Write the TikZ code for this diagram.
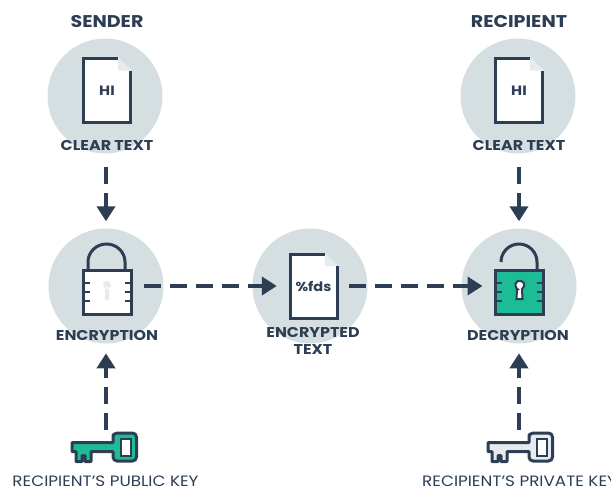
\documentclass[tikz,border=0pt]{standalone}
\usepackage{fontspec}
\setmainfont[FakeStretch=1.12]{Poppins}
\usetikzlibrary{arrows.meta,calc}
\definecolor{SlateDark}{RGB}{45,62,84}
\definecolor{DiscGrey}{RGB}{213,223,226}
\definecolor{FoldGrey}{RGB}{230,236,238}
\definecolor{LockGreen}{RGB}{27,188,150}
\tikzstyle{disc} = [circle, fill=DiscGrey, minimum size=115pt, inner sep=0pt]
\tikzstyle{docbox} = [rectangle, minimum width=47pt, minimum height=64pt, inner sep=0pt, text=SlateDark, font=\fontsize{13.5}{14}\selectfont\bfseries]
\tikzstyle{lockbox} = [rectangle, minimum width=48pt, minimum height=44pt, inner sep=0pt]
\tikzstyle{title} = [text=SlateDark, font=\fontsize{17}{17}\selectfont\bfseries, inner sep=0pt, align=center]
\tikzstyle{caption} = [text=SlateDark, font=\fontsize{14.2}{17}\selectfont\bfseries, inner sep=1pt, align=center]
\tikzstyle{keytext} = [text=SlateDark, font=\fontsize{15}{15}\selectfont, inner sep=0pt]
\tikzstyle{icon} = [draw=SlateDark, line width=3pt]
\tikzstyle{arrow} = [draw=SlateDark, line width=4.5pt, dash pattern=on 17pt off 9pt, -{Triangle[length=15pt,width=18pt]}]
% page with folded corner
\newcommand{\docicon}[4]{
\begin{scope}[shift={(#2,#3)}]
\fill [white] (-23.5,-32) -- (11,-32) -- (23.5,-20) -- (23.5,32) -- (-23.5,32) -- cycle;
\fill [FoldGrey] (11,-33.5) -- (11,-20) -- (25,-20) -- cycle;
\draw [icon] (11,-32) -- (-23.5,-32) -- (-23.5,32) -- (23.5,32) -- (23.5,-20);
\node (#1) [docbox] at (0,0) {#4};
\end{scope}}
% lock body and the ticks on its sides
\newcommand{\lockicon}[4]{
\begin{scope}[shift={(#2,#3)}]
\node (#1) [lockbox, fill=#4, icon] at (0,0) {};
\foreach \y in {-9,0,9} {
\draw [icon, line width=2.5pt] (-25.5,\y) -- (-17.5,\y);
\draw [icon, line width=2.5pt] (17.5,\y) -- (25.5,\y);
}
\end{scope}}
% key, outlined
\newcommand{\keyicon}[4]{
\begin{scope}[shift={(#2,#3)}]
\draw [icon, fill=#4, line join=round] (1,11) -- (42,11) -- (42,3) [rounded corners=4pt] -- (42,1.5) -- (65.5,1.5) -- (65.5,29.5) -- (42,29.5) [sharp corners] -- (42,20) -- (20,20) -- (20,30) -- (14,30) -- (14,24) -- (11,24) -- (11,30) -- (5,30) -- (5,20) -- (1,20) -- cycle;
\draw [icon, fill=white, line width=2pt] (50,7) rectangle (60,24);
\coordinate (#1) at (35,1);
\end{scope}}

\begin{document}
\begin{tikzpicture}[x=1pt, y=-1pt]
\useasboundingbox (0,0) rectangle (611,488);

% Discs
\node (senderdisc) [disc] at (105,96) {};
\node (recipientdisc) [disc] at (518,96) {};
\node (encdisc) [disc] at (106,286) {};
\node (textdisc) [disc] at (310,286) {};
\node (decdisc) [disc] at (519,286) {};

% Titles
\node (sendertitle) [title] at (107,22) {SENDER};
\node (recipienttitle) [title] at (519,22) {RECIPIENT};

% Pages
\docicon{senderdoc}{107}{90.5}{HI}
\docicon{recipientdoc}{519}{90.5}{HI}
\docicon{textdoc}{313.5}{286}{\fontsize{13}{14}\selectfont\%fds}

% Encryption lock
\draw [icon] (88,269) -- (88,262) arc[start angle=180, end angle=0, x radius=18.5, y radius=-18] -- (125,269);
\lockicon{enclock}{107}{292}{white}
\fill [FoldGrey] (107,285) circle (4) (105,287) rectangle (109,300);

% Decryption lock
\draw [icon] (501,262) arc[start angle=180, end angle=0, x radius=18, y radius=-18] -- (537,269);
\lockicon{declock}{519}{292}{LockGreen}
\draw [icon, fill=white, line width=2pt] (517,289) -- (516.5,299) -- (522.5,299) -- (522,289) arc[start angle=-60, end angle=240, radius=4.5, y radius=-4.5] -- cycle;

% Captions
\node (sendercap) [caption] at (107,145) {CLEAR TEXT};
\node (recipientcap) [caption] at (519,145) {CLEAR TEXT};
\node (enccap) [caption] at (107,335) {ENCRYPTION};
\node (textcap) [caption, anchor=north] at (313,326) {ENCRYPTED\\TEXT};
\node (deccap) [caption] at (518,335) {DECRYPTION};

% Keys
\keyicon{pubkey}{71}{431.5}{LockGreen}
\keyicon{privkey}{487}{431.5}{FoldGrey}
\node (pubtext) [keytext] at (105.5,481) {RECIPIENT'S PUBLIC KEY};
\node (privtext) [keytext, anchor=west] at (422,481) {RECIPIENT'S PRIVATE KEY};

% Arrows
\draw [arrow, shorten <=16pt, shorten >=7pt] (sendercap.south -| encdisc) -- (encdisc.north);
\draw [arrow, shorten <=16pt, shorten >=7pt] (recipientcap.south -| decdisc) -- (decdisc.north);
\draw [arrow, shorten <=11pt, shorten >=13pt] (enclock.east |- encdisc) -- (textdoc.west);
\draw [arrow, shorten <=12pt, shorten >=11pt] (textdoc.east) -- (declock.west |- textdoc.east);
\draw [arrow, shorten <=3pt, shorten >=12pt] (encdisc |- pubkey) -- (encdisc |- enccap.south);
\draw [arrow, shorten <=3pt, shorten >=12pt] (decdisc |- privkey) -- (decdisc |- deccap.south);

\end{tikzpicture}
\end{document}
